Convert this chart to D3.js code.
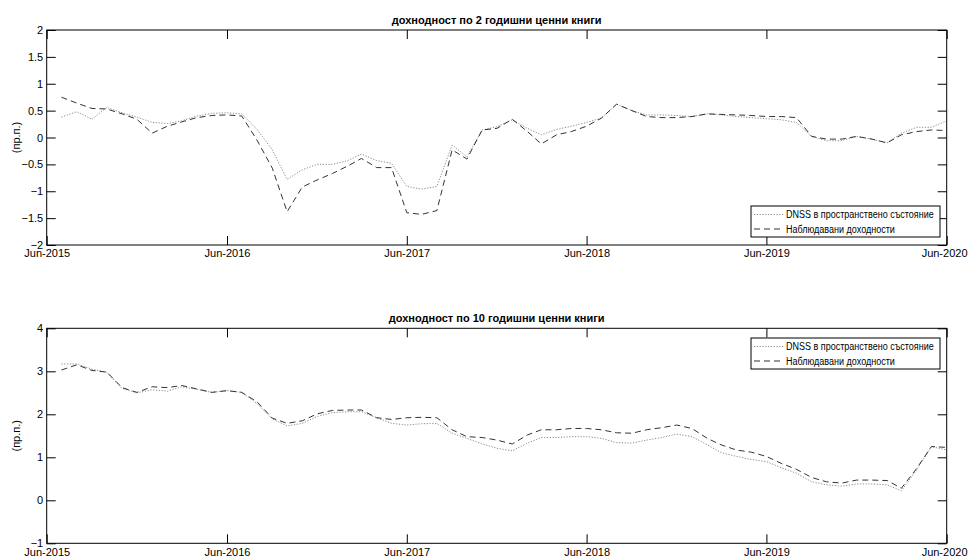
<!DOCTYPE html>
<html>
<head>
<meta charset="utf-8">
<script src="https://cdn.jsdelivr.net/npm/d3@7/dist/d3.min.js"></script>
<style>
  html, body { margin: 0; padding: 0; background: #fff; }
  svg { display: block; font-family: "Liberation Sans", Arial, sans-serif; }
</style>
</head>
<body>
<svg id="chart" width="968" height="558"></svg>
<script>
// Monthly observations, Jul-2015 .. Jun-2020
const firstMonth = "2015-07-01";
const lastMonth = "2020-06-01";

// 2-year government securities yield (п.п.)
const dnss2 = [
  0.38, 0.48, 0.34, 0.56, 0.46, 0.38, 0.28, 0.26, 0.31, 0.40, 0.45, 0.46,
  0.44, 0.15, -0.23, -0.78, -0.60, -0.50, -0.50, -0.43, -0.31, -0.43, -0.48, -0.91,
  -0.96, -0.91, -0.14, -0.36, 0.14, 0.20, 0.33, 0.17, 0.05, 0.15, 0.21, 0.28,
  0.36, 0.62, 0.50, 0.42, 0.42, 0.41, 0.39, 0.44, 0.42, 0.39, 0.37, 0.35,
  0.33, 0.28, 0.02, -0.06, -0.06, 0.02, -0.03, -0.10, 0.08, 0.19, 0.19, 0.31
];
const obs2 = [
  0.75, 0.64, 0.54, 0.53, 0.44, 0.34, 0.08, 0.21, 0.29, 0.37, 0.41, 0.42,
  0.40, -0.05, -0.57, -1.38, -0.92, -0.79, -0.67, -0.53, -0.39, -0.56, -0.56, -1.40,
  -1.43, -1.36, -0.23, -0.40, 0.14, 0.17, 0.34, 0.11, -0.12, 0.05, 0.11, 0.21,
  0.36, 0.62, 0.50, 0.39, 0.37, 0.37, 0.39, 0.44, 0.43, 0.42, 0.41, 0.39,
  0.39, 0.37, 0.02, -0.03, -0.03, 0.02, -0.03, -0.10, 0.05, 0.11, 0.14, 0.13
];

// 10-year government securities yield (п.п.)
const dnss10 = [
  3.17, 3.17, 3.05, 2.98, 2.60, 2.50, 2.57, 2.54, 2.64, 2.58, 2.51, 2.55,
  2.51, 2.25, 1.89, 1.73, 1.79, 1.95, 2.04, 2.06, 2.06, 1.92, 1.79, 1.75,
  1.78, 1.79, 1.56, 1.44, 1.31, 1.21, 1.15, 1.33, 1.46, 1.46, 1.48, 1.48,
  1.44, 1.34, 1.33, 1.40, 1.46, 1.54, 1.48, 1.29, 1.11, 1.02, 0.95, 0.90,
  0.76, 0.63, 0.43, 0.36, 0.33, 0.38, 0.38, 0.36, 0.22, 0.71, 1.25, 1.17
];
const obs10 = [
  3.03, 3.15, 3.02, 2.98, 2.62, 2.51, 2.64, 2.62, 2.67, 2.59, 2.51, 2.55,
  2.51, 2.29, 1.91, 1.79, 1.85, 2.01, 2.09, 2.10, 2.10, 1.92, 1.88, 1.92,
  1.93, 1.92, 1.64, 1.48, 1.46, 1.40, 1.31, 1.52, 1.64, 1.64, 1.67, 1.67,
  1.64, 1.57, 1.56, 1.64, 1.69, 1.75, 1.67, 1.44, 1.29, 1.17, 1.12, 1.02,
  0.86, 0.72, 0.53, 0.43, 0.40, 0.47, 0.47, 0.46, 0.28, 0.74, 1.25, 1.23
];

const xTickDates = ["2015-06-01", "2016-06-01", "2017-06-01", "2018-06-01", "2019-06-01", "2020-06-01"];
const yTicks2 = [-2, -1.5, -1, -0.5, 0, 0.5, 1, 1.5, 2];
const yTicks10 = [-1, 0, 1, 2, 3, 4];
const seriesNames = ["DNSS в пространствено състояние", "Наблюдавани доходности"];
const titles = ["дохнодност по 2 годишни ценни книги", "дохнодност по 10 годишни ценни книги"];
const yLabel = "(пр.п.)";

const parse = d3.utcParse("%Y-%m-%d");
const months = d3.utcMonth.range(parse(firstMonth), d3.utcMonth.offset(parse(lastMonth), 1));
const fmt = d3.utcFormat("%b-%Y");

const svg = d3.select("#chart");
const W = 968;
const left = 46.7, right = 946.7;
const x = d3.scaleUtc()
  .domain([parse(xTickDates[0]), parse(xTickDates[xTickDates.length - 1])])
  .range([left, right]);

const styles = [
  { color: "#8a8a8a", dash: "1.2,1.6", width: 1 },
  { color: "#333333", dash: "6,4", width: 1 }
];

function panel(cfg) {
  const { top, bottom, domain, ticks, series, title, legendY } = cfg;
  const y = d3.scaleLinear().domain(domain).range([bottom, top]);
  const g = svg.append("g");
  const tickLen = 9;

  // lines
  const line = d3.line().x((d, i) => x(months[i])).y(d => y(d));
  series.forEach((s, k) => {
    g.append("path")
      .datum(s)
      .attr("fill", "none")
      .attr("stroke", styles[k].color)
      .attr("stroke-width", styles[k].width)
      .attr("stroke-dasharray", styles[k].dash)
      .attr("d", line);
  });

  // axes (ticks pointing inward on all four sides)
  const xb = g.append("g").attr("transform", `translate(0,${bottom})`)
    .call(d3.axisBottom(x).tickValues(xTickDates.map(parse)).tickFormat(fmt)
      .tickSizeInner(-tickLen).tickSizeOuter(0));
  const xt = g.append("g").attr("transform", `translate(0,${top})`)
    .call(d3.axisTop(x).tickValues(xTickDates.map(parse)).tickFormat("")
      .tickSizeInner(-tickLen).tickSizeOuter(0));
  const yl = g.append("g").attr("transform", `translate(${left},0)`)
    .call(d3.axisLeft(y).tickValues(ticks).tickFormat(d3.format("~g"))
      .tickSizeInner(-tickLen).tickSizeOuter(0).tickPadding(3.5));
  const yr = g.append("g").attr("transform", `translate(${right},0)`)
    .call(d3.axisRight(y).tickValues(ticks).tickFormat("")
      .tickSizeInner(-tickLen).tickSizeOuter(0));
  [xb, xt, yl, yr].forEach(a => {
    a.select(".domain").remove();
    a.selectAll("line").attr("stroke", "#000").attr("stroke-width", 1);
    a.selectAll("text").attr("fill", "#000").style("font-size", "11px")
      .style("font-family", '"Liberation Sans", Arial, sans-serif');
  });
  xb.selectAll("text").attr("y", 8.5).attr("dy", "0.35em");
  // keep the last date label inside the page
  xb.selectAll(".tick").filter((d, i, n) => i === n.length - 1).select("text")
    .attr("text-anchor", "end").attr("x", W - 1 - right);

  g.append("rect")
    .attr("x", left).attr("y", top)
    .attr("width", right - left).attr("height", bottom - top)
    .attr("fill", "none").attr("stroke", "#000").attr("stroke-width", 1);

  // title
  g.append("text")
    .attr("x", (left + right) / 2).attr("y", top - 6)
    .attr("text-anchor", "middle")
    .style("font-size", "11px").style("font-weight", "bold")
    .text(title);

  // y label
  g.append("text")
    .attr("transform", `translate(20,${(top + bottom) / 2}) rotate(-90)`)
    .attr("text-anchor", "middle")
    .style("font-size", "11px")
    .text(yLabel);

  // legend (condensed lettering)
  const lx = 751, lw = 189, lh = 31;
  const lg = g.append("g").attr("transform", `translate(${lx},${legendY})`);
  lg.append("rect").attr("width", lw).attr("height", lh)
    .attr("fill", "#fff").attr("stroke", "#000").attr("stroke-width", 1);
  seriesNames.forEach((name, k) => {
    const ry = 8.5 + k * 14.5;
    lg.append("line").attr("x1", 3).attr("x2", 33).attr("y1", ry).attr("y2", ry)
      .attr("stroke", styles[k].color).attr("stroke-width", styles[k].width)
      .attr("stroke-dasharray", styles[k].dash);
    lg.append("text")
      .attr("transform", `translate(35,${ry}) scale(0.82,1)`)
      .attr("dy", "0.35em")
      .style("font-size", "11px").text(name);
  });
}

panel({ top: 30, bottom: 245, domain: [-2, 2], ticks: yTicks2, series: [dnss2, obs2], title: titles[0], legendY: 206 });
panel({ top: 328.3, bottom: 543.3, domain: [-1, 4], ticks: yTicks10, series: [dnss10, obs10], title: titles[1], legendY: 338 });
</script>
</body>
</html>
